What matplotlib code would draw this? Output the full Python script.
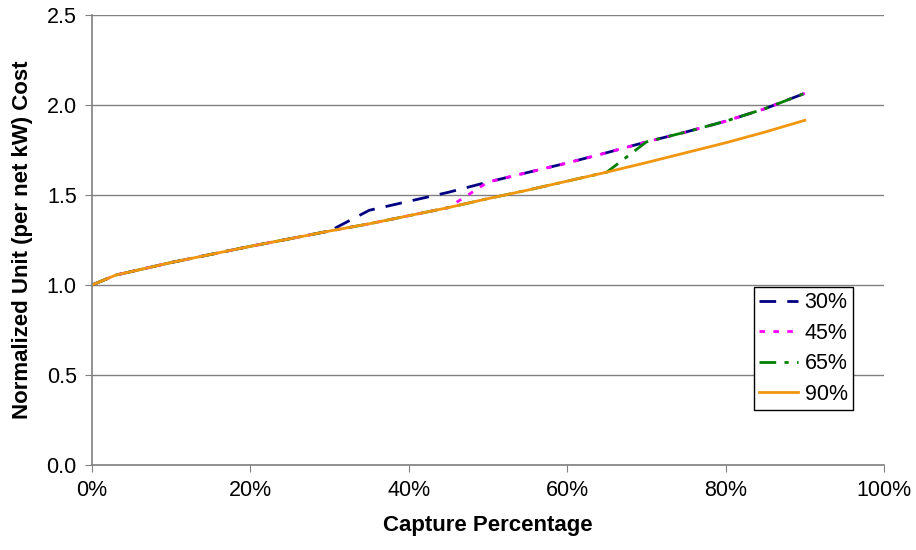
import matplotlib
matplotlib.use('Agg')
import matplotlib.pyplot as plt
from matplotlib.ticker import FuncFormatter

plt.rcParams['font.family'] = ['Liberation Sans', 'DejaVu Sans']

capture = [0, 3, 5, 10, 15, 20, 25, 30, 35, 40, 45, 50, 55, 60, 65, 70, 75, 80, 85, 90]

cost_30 = [1.0, 1.055, 1.075, 1.125, 1.17, 1.215, 1.257, 1.30, 1.415, 1.465, 1.515, 1.572,
           1.625, 1.678, 1.735, 1.795, 1.85, 1.91, 1.98, 2.065]
cost_45 = [1.0, 1.055, 1.075, 1.125, 1.17, 1.215, 1.257, 1.30, 1.34, 1.385, 1.43, 1.572,
           1.625, 1.678, 1.735, 1.795, 1.85, 1.91, 1.98, 2.065]
cost_65 = [1.0, 1.055, 1.075, 1.125, 1.17, 1.215, 1.257, 1.30, 1.34, 1.385, 1.43, 1.48,
           1.527, 1.577, 1.627, 1.795, 1.85, 1.91, 1.98, 2.065]
cost_90 = [1.0, 1.055, 1.075, 1.125, 1.17, 1.215, 1.257, 1.30, 1.34, 1.385, 1.43, 1.48,
           1.527, 1.577, 1.627, 1.68, 1.735, 1.79, 1.85, 1.915]

labels = ['30%', '45%', '65%', '90%']

fig = plt.figure(figsize=(9.16, 5.5), dpi=100)
ax = fig.add_axes([92 / 916, 85 / 550, 792 / 916, 450 / 550])

ax.plot(capture, cost_30, color='#000080', lw=2, linestyle=(0, (6, 4)), label=labels[0])
ax.plot(capture, cost_45, color='#FF00FF', lw=2, linestyle=(0, (2, 3)), label=labels[1])
ax.plot(capture, cost_65, color='#008000', lw=2, linestyle=(0, (6, 3, 1.5, 3)), label=labels[2])
ax.plot(capture, cost_90, color='#F0960F', lw=2, linestyle='-', label=labels[3])

ax.set_xlim(0, 100)
ax.set_ylim(0, 2.5)
ax.set_xticks(range(0, 101, 20))
ax.set_yticks([0, 0.5, 1.0, 1.5, 2.0, 2.5])
ax.xaxis.set_major_formatter(FuncFormatter(lambda v, p: f'{v:.0f}%'))
ax.yaxis.set_major_formatter(FuncFormatter(lambda v, p: f'{v:.1f}'))

ax.grid(axis='y', color='#808080', lw=1)
ax.set_axisbelow(True)
for s in ['top', 'right']:
    ax.spines[s].set_visible(False)
for s in ['left', 'bottom']:
    ax.spines[s].set_color('#808080')
    ax.spines[s].set_linewidth(1.2)
ax.tick_params(direction='out', length=5, color='#808080', labelsize=15.5, pad=6)

ax.set_xlabel('Capture Percentage', fontsize=16, fontweight='bold', labelpad=10)
ax.set_ylabel('Normalized Unit (per net kW) Cost', fontsize=16, fontweight='bold', labelpad=10)

leg = ax.legend(loc='upper left', bbox_to_anchor=(0.836, 0.396), fontsize=15.5, frameon=True,
                fancybox=False, edgecolor='black', framealpha=1, borderpad=0.25,
                handlelength=1.8, handletextpad=0.3, labelspacing=0.44, borderaxespad=0)
leg.get_frame().set_linewidth(1)

fig.savefig('out.png', dpi=100)
